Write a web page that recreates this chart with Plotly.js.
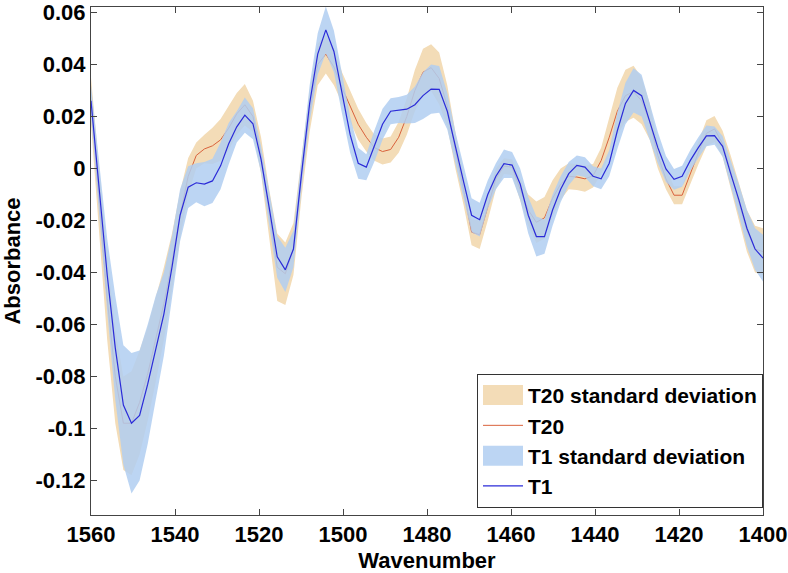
<!DOCTYPE html>
<html>
<head>
<meta charset="utf-8">
<script src="https://cdn.plot.ly/plotly-3.0.1.min.js"></script>
<style>
  html, body { margin: 0; padding: 0; background: #fff; }
  #chart { width: 788px; height: 573px; }
</style>
</head>
<body>
<div id="chart"></div>
<script>
const wavenumber = [
  1560.00, 1558.07, 1556.14, 1554.22, 1552.29, 1550.36, 1548.43, 1546.50, 1544.58, 1542.65,
  1540.72, 1538.79, 1536.86, 1534.94, 1533.01, 1531.08, 1529.15, 1527.22, 1525.30, 1523.37,
  1521.44, 1519.51, 1517.58, 1515.66, 1513.73, 1511.80, 1509.87, 1507.94, 1506.02, 1504.09,
  1502.16, 1500.23, 1498.30, 1496.38, 1494.45, 1492.52, 1490.59, 1488.66, 1486.74, 1484.81,
  1482.88, 1480.95, 1479.02, 1477.10, 1475.17, 1473.24, 1471.31, 1469.38, 1467.46, 1465.53,
  1463.60, 1461.67, 1459.74, 1457.82, 1455.89, 1453.96, 1452.03, 1450.10, 1448.18, 1446.25,
  1444.32, 1442.39, 1440.46, 1438.54, 1436.61, 1434.68, 1432.75, 1430.82, 1428.90, 1426.97,
  1425.04, 1423.11, 1421.18, 1419.26, 1417.33, 1415.40, 1413.47, 1411.54, 1409.62, 1407.69,
  1405.76, 1403.83, 1401.90, 1399.98
];

const t20Mean = [
  0.026, -0.012, -0.050, -0.080, -0.098, -0.098, -0.090, -0.079, -0.066, -0.052,
  -0.036, -0.018, -0.003, 0.005, 0.0075, 0.0087, 0.011, 0.0155, 0.021, 0.0245,
  0.020, 0.005, -0.017, -0.038, -0.0405, -0.031, -0.003, 0.022, 0.040, 0.044,
  0.039, 0.031, 0.024, 0.017, 0.012, 0.008, 0.0065, 0.0073, 0.012, 0.020,
  0.030, 0.037, 0.0388, 0.0346, 0.024, 0.007, -0.008, -0.0245, -0.0255, -0.015,
  -0.004, 0.0009, 0.0005, -0.008, -0.016, -0.0207, -0.019, -0.0115, -0.006, -0.003,
  -0.0033, -0.004, -0.0028, 0.003, 0.012, 0.022, 0.028, 0.0295, 0.026, 0.018,
  0.005, -0.004, -0.0103, -0.0103, -0.002, 0.006, 0.0135, 0.0152, 0.0095, -0.001,
  -0.013, -0.024, -0.031, -0.032
];

const t20Sd = [
  0.009, 0.012, 0.016, 0.018, 0.018, 0.020, 0.020, 0.018, 0.016, 0.014,
  0.011, 0.009, 0.007, 0.005, 0.0055, 0.007, 0.008, 0.0085, 0.008, 0.008,
  0.006, 0.007, 0.009, 0.013, 0.012, 0.010, 0.008, 0.008, 0.008, 0.0075,
  0.007, 0.006, 0.006, 0.006, 0.0055, 0.005, 0.005, 0.005, 0.006, 0.007,
  0.008, 0.009, 0.009, 0.010, 0.008, 0.007, 0.006, 0.005, 0.0055, 0.005,
  0.004, 0.003, 0.003, 0.004, 0.006, 0.008, 0.008, 0.007, 0.006, 0.005,
  0.005, 0.005, 0.0045, 0.005, 0.007, 0.009, 0.010, 0.010, 0.009, 0.007,
  0.005, 0.004, 0.0035, 0.0035, 0.004, 0.0045, 0.005, 0.005, 0.005, 0.006,
  0.007, 0.008, 0.009, 0.009
];

const t1Mean = [
  0.026, -0.008, -0.041, -0.069, -0.091, -0.098, -0.095, -0.083, -0.069, -0.056,
  -0.038, -0.018, -0.0072, -0.0055, -0.006, -0.0048, 0.001, 0.0095, 0.016, 0.0205,
  0.0172, 0.0035, -0.015, -0.034, -0.039, -0.031, -0.002, 0.025, 0.044, 0.0533,
  0.045, 0.029, 0.013, 0.002, 0.0005, 0.0087, 0.017, 0.022, 0.0225, 0.0228,
  0.0245, 0.028, 0.0305, 0.0304, 0.022, 0.008, -0.005, -0.018, -0.0197, -0.010,
  -0.003, 0.0018, 0.0013, -0.006, -0.018, -0.0262, -0.0262, -0.016, -0.008, -0.002,
  0.0012, 0.0005, -0.003, -0.004, 0.002, 0.0145, 0.025, 0.030, 0.028, 0.018,
  0.008, -0.0002, -0.0042, -0.003, 0.003, 0.008, 0.0125, 0.0126, 0.0085, -0.002,
  -0.012, -0.023, -0.031, -0.0345
];

const t1Sd = [
  0.006, 0.010, 0.014, 0.020, 0.023, 0.027, 0.025, 0.023, 0.020, 0.016,
  0.012, 0.010, 0.008, 0.0075, 0.0085, 0.0085, 0.009, 0.008, 0.006, 0.0068,
  0.006, 0.005, 0.006, 0.008, 0.0085, 0.007, 0.006, 0.007, 0.008, 0.009,
  0.008, 0.008, 0.007, 0.006, 0.005, 0.006, 0.006, 0.005, 0.005, 0.0055,
  0.007, 0.009, 0.0095, 0.009, 0.007, 0.006, 0.006, 0.0065, 0.0065, 0.0055,
  0.005, 0.0055, 0.005, 0.006, 0.007, 0.0077, 0.0066, 0.006, 0.005, 0.0045,
  0.0038, 0.0038, 0.0038, 0.004, 0.005, 0.007, 0.008, 0.0085, 0.008, 0.007,
  0.006, 0.005, 0.004, 0.004, 0.004, 0.004, 0.004, 0.0035, 0.004, 0.005,
  0.006, 0.007, 0.008, 0.009
];

const xTicks = [1560, 1540, 1520, 1500, 1480, 1460, 1440, 1420, 1400];
const yTicks = [-0.12, -0.1, -0.08, -0.06, -0.04, -0.02, 0, 0.02, 0.04, 0.06];
const yTickText = ['-0.12', '-0.1', '-0.08', '-0.06', '-0.04', '-0.02', '0', '0.02', '0.04', '0.06'];

const FONT = 'Liberation Sans, Arial, Helvetica, sans-serif';
const AXIS_COLOR = '#444';

// closed polygon: mean + sd going one way, mean - sd coming back
function band(mean, sd) {
    const upper = mean.map((m, i) => m + sd[i]);
    const lower = mean.map((m, i) => m - sd[i]).reverse();
    return {
        x: wavenumber.concat(wavenumber.slice().reverse()),
        y: upper.concat(lower)
    };
}

const t20Band = band(t20Mean, t20Sd);
const t1Band = band(t1Mean, t1Sd);

const traces = [
    {
        x: t20Band.x, y: t20Band.y,
        type: 'scatter', mode: 'lines',
        fill: 'toself',
        fillcolor: 'rgb(243,220,183)',
        line: { width: 0 },
        name: 'T20 standard deviation',
        hoverinfo: 'skip'
    },
    {
        x: wavenumber, y: t20Mean,
        type: 'scatter', mode: 'lines',
        line: { color: '#d9623c', width: 1 },
        name: 'T20'
    },
    {
        x: t1Band.x, y: t1Band.y,
        type: 'scatter', mode: 'lines',
        fill: 'toself',
        fillcolor: 'rgba(176,206,241,0.85)',
        line: { width: 0 },
        name: 'T1 standard deviation',
        hoverinfo: 'skip'
    },
    {
        x: wavenumber, y: t1Mean,
        type: 'scatter', mode: 'lines',
        line: { color: '#2b2bd8', width: 1.2 },
        name: 'T1'
    }
];

const tickFont = { family: FONT, size: 22, weight: 'bold', color: '#000' };
const titleFont = { family: FONT, size: 22, weight: 'bold', color: '#000' };

const layout = {
    width: 788,
    height: 573,
    margin: { l: 91, r: 25, t: 7, b: 58 },
    paper_bgcolor: '#fff',
    plot_bgcolor: '#fff',
    showlegend: true,
    legend: {
        x: 1, xanchor: 'right',
        y: 0.014, yanchor: 'bottom',
        bgcolor: '#fff',
        bordercolor: '#333',
        borderwidth: 1,
        font: { family: FONT, size: 21, weight: 'bold', color: '#000' },
        tracegroupgap: 0,
        itemwidth: 40
    },
    xaxis: {
        range: [1560, 1400],
        tickvals: xTicks,
        ticks: 'inside',
        ticklen: 6,
        tickcolor: AXIS_COLOR,
        showline: true,
        linecolor: AXIS_COLOR,
        linewidth: 1,
        mirror: 'ticks',
        showgrid: false,
        zeroline: false,
        tickfont: tickFont,
        ticklabeloverflow: 'allow',
        title: { text: 'Wavenumber', font: titleFont, standoff: 8 }
    },
    yaxis: {
        range: [-0.1333, 0.0621],
        tickvals: yTicks,
        ticktext: yTickText,
        ticks: 'inside',
        ticklen: 6,
        tickcolor: AXIS_COLOR,
        showline: true,
        linecolor: AXIS_COLOR,
        linewidth: 1,
        mirror: 'ticks',
        showgrid: false,
        zeroline: false,
        tickfont: tickFont,
        ticklabeloverflow: 'allow',
        title: { text: 'Absorbance', font: titleFont, standoff: 8 }
    }
};

Plotly.newPlot('chart', traces, layout, { displayModeBar: false, staticPlot: true }).then(function(gd) {
    // the original figure shows the bands as big patches in the legend
    gd.querySelectorAll('.legend .legendfill path').forEach(function(p) {
        p.setAttribute('d', 'M5,-10h40v20h-40z');
    });
});
</script>
</body>
</html>
